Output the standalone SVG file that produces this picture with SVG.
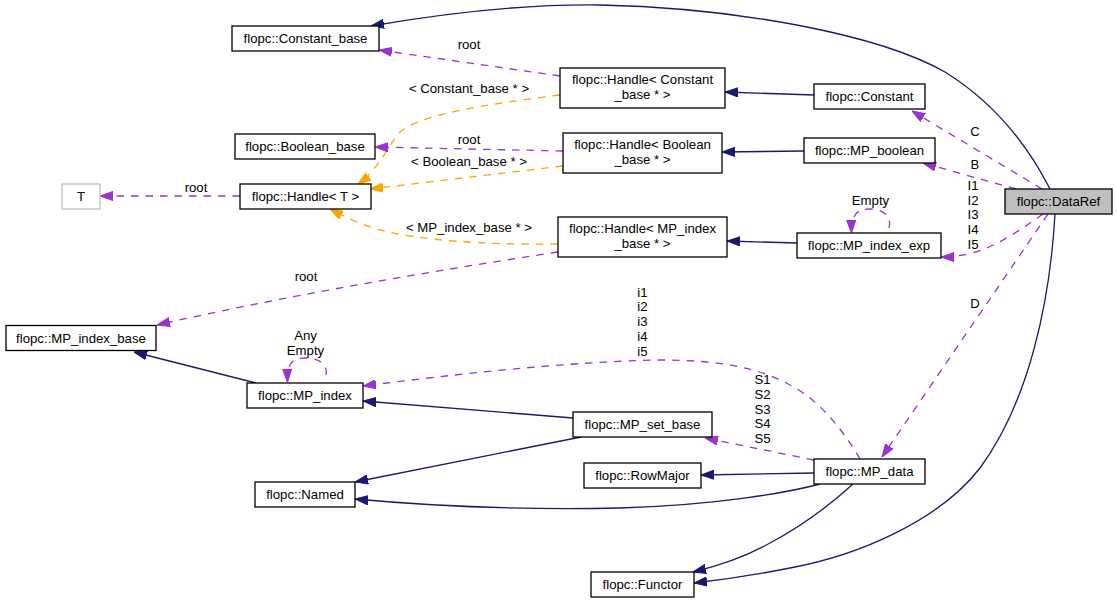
<svg xmlns="http://www.w3.org/2000/svg" width="1117" height="604" viewBox="0 0 1117 604">
<style>
  text { font-family: "Liberation Sans", Arial, sans-serif; font-size: 13.2px; fill: #000; text-anchor: middle; }
  .node rect { fill: #fff; stroke: #000; stroke-width: 1.3; }
  .node.cur rect { fill: #bfbfbf; }
  .node.ext rect { stroke: #bfbfbf; }
  .edges path { fill: none; stroke-width: 1.3; }
  .inh { stroke: #191970; }
  .usg { stroke: #9a32cd; stroke-dasharray: 7.5,7; }
  .tpl { stroke: #ffa500; stroke-dasharray: 7.5,7; }
</style>
<defs>
  <marker id="aN" viewBox="0 0 13 10" refX="13" refY="5" markerWidth="13" markerHeight="10" markerUnits="userSpaceOnUse" orient="auto">
    <path d="M0,0.4 L13,5 L0,9.6 z" fill="#191970" stroke="#191970" stroke-width="1"/>
  </marker>
  <marker id="aP" viewBox="0 0 13 10" refX="13" refY="5" markerWidth="13" markerHeight="10" markerUnits="userSpaceOnUse" orient="auto">
    <path d="M0,0.4 L13,5 L0,9.6 z" fill="#9a32cd" stroke="#9a32cd" stroke-width="1"/>
  </marker>
  <marker id="aO" viewBox="0 0 13 10" refX="13" refY="5" markerWidth="13" markerHeight="10" markerUnits="userSpaceOnUse" orient="auto">
    <path d="M0,0.4 L13,5 L0,9.6 z" fill="#ffa500" stroke="#ffa500" stroke-width="1"/>
  </marker>
</defs>
<rect width="1117" height="604" fill="#fff"/>

<g id="edges" class="edges">
  <path class="inh" marker-end="url(#aN)" d="M1050,189 C1025,140 990,100 945,72 C880,35 740,8 600,5 C520,4 440,14 371,26"/>
  <path class="usg" marker-end="url(#aP)" d="M560,76 L379,50"/>
  <path class="tpl" marker-end="url(#aO)" d="M560,95 C480,105 420,115 400,132 C388,145 380,168 358,184"/>
  <path class="inh" marker-end="url(#aN)" d="M814,95 L725,92"/>
  <path class="usg" marker-end="url(#aP)" d="M1042,189 L912,111"/>
  <path class="usg" marker-end="url(#aP)" d="M563,151 L375,147"/>
  <path class="tpl" marker-end="url(#aO)" d="M563,166 L370,189"/>
  <path class="inh" marker-end="url(#aN)" d="M804,151 L722,152"/>
  <path class="usg" marker-end="url(#aP)" d="M1016,189 L923,163"/>
  <path class="usg" marker-end="url(#aP)" d="M240,196 L100,196"/>
  <path class="tpl" marker-end="url(#aO)" d="M558,244 C480,245 420,240 380,230 C360,224 345,217 330,209"/>
  <path class="usg" marker-end="url(#aP)" d="M558,252 C420,273 280,297 157,325"/>
  <path class="inh" marker-end="url(#aN)" d="M797,243 L727,241"/>
  <path class="usg" marker-end="url(#aP)" d="M889,228 C892,218 885,209 870,209 C858,209 851,213 851.5,233"/>
  <path class="usg" marker-end="url(#aP)" d="M1043,214 C1020,230 995,248 968,254 C958,256 950,257 941,257"/>
  <path class="inh" marker-end="url(#aN)" d="M256,383 L134,352"/>
  <path class="usg" marker-end="url(#aP)" d="M326,375 C328,365 320,358 305,358 C293,358 287,362 287.5,382"/>
  <path class="usg" marker-end="url(#aP)" d="M860,459 C845,433 820,400 790,385 C760,368 720,360 660,360 C560,362 450,375 363,386"/>
  <path class="inh" marker-end="url(#aN)" d="M573,418 L363,401"/>
  <path class="inh" marker-end="url(#aN)" d="M581,437 L355,482"/>
  <path class="usg" marker-end="url(#aP)" d="M814,460 L705,438"/>
  <path class="inh" marker-end="url(#aN)" d="M814,473 L701,475"/>
  <path class="inh" marker-end="url(#aN)" d="M820,484 C790,492 720,505 620,508 C520,510 430,506 355,499"/>
  <path class="inh" marker-end="url(#aN)" d="M853,484 C830,505 800,527 770,543 C745,557 718,566 693,572"/>
  <path class="inh" marker-end="url(#aN)" d="M1055,214 C1050,300 1030,400 980,468 C940,520 860,555 790,568 C750,576 720,580 694,583"/>
  <path class="usg" marker-end="url(#aP)" d="M1048,214 L882,457"/>

  <text x="469" y="49">root</text>
  <text x="469" y="93">&lt; Constant_base * &gt;</text>
  <text x="469" y="144">root</text>
  <text x="469" y="166">&lt; Boolean_base * &gt;</text>
  <text x="196" y="192">root</text>
  <text x="469" y="232">&lt; MP_index_base * &gt;</text>
  <text x="306" y="281">root</text>
  <text x="975" y="136">C</text>
  <text x="975" y="169">B</text>
  <text x="973" y="190">I1</text>
  <text x="973" y="204.7">I2</text>
  <text x="973" y="219.4">I3</text>
  <text x="973" y="234.1">I4</text>
  <text x="973" y="248.8">I5</text>
  <text x="870.5" y="205">Empty</text>
  <text x="305.5" y="340">Any</text>
  <text x="305.5" y="354.5">Empty</text>
  <text x="642.5" y="296.7">i1</text>
  <text x="642.5" y="311.4">i2</text>
  <text x="642.5" y="326.1">i3</text>
  <text x="642.5" y="340.8">i4</text>
  <text x="642.5" y="355.5">i5</text>
  <text x="762.5" y="384.3">S1</text>
  <text x="762.5" y="399">S2</text>
  <text x="762.5" y="413.7">S3</text>
  <text x="762.5" y="428.4">S4</text>
  <text x="762.5" y="443.1">S5</text>
  <text x="975" y="308">D</text>
</g>

<g id="node_Constant_base" class="node"><rect x="232" y="26" width="147" height="25"/><text x="305.5" y="43">flopc::Constant_base</text></g>
<g id="node_Boolean_base" class="node"><rect x="235" y="134" width="140" height="25"/><text x="305" y="151">flopc::Boolean_base</text></g>
<g id="node_HandleT" class="node"><rect x="240" y="184" width="131" height="25"/><text x="305.5" y="201">flopc::Handle&lt; T &gt;</text></g>
<g id="node_T" class="node ext"><rect x="62" y="184" width="38" height="25"/><text x="81" y="201">T</text></g>
<g id="node_HandleConstant" class="node"><rect x="560" y="68" width="165" height="40"/><text x="642.5" y="84">flopc::Handle&lt; Constant</text><text x="642.5" y="99">_base * &gt;</text></g>
<g id="node_Constant" class="node"><rect x="814" y="84" width="111" height="25"/><text x="869.5" y="101">flopc::Constant</text></g>
<g id="node_HandleBoolean" class="node"><rect x="563" y="133" width="159" height="40"/><text x="642.5" y="149">flopc::Handle&lt; Boolean</text><text x="642.5" y="164">_base * &gt;</text></g>
<g id="node_MP_boolean" class="node"><rect x="804" y="138" width="131" height="25"/><text x="869.5" y="155">flopc::MP_boolean</text></g>
<g id="node_HandleMPindex" class="node"><rect x="558" y="217" width="169" height="40"/><text x="642.5" y="233">flopc::Handle&lt; MP_index</text><text x="642.5" y="248">_base * &gt;</text></g>
<g id="node_MP_index_exp" class="node"><rect x="797" y="233" width="144" height="25"/><text x="869" y="250">flopc::MP_index_exp</text></g>
<g id="node_DataRef" class="node cur"><rect x="1005" y="189" width="107" height="25"/><text x="1058.5" y="206">flopc::DataRef</text></g>
<g id="node_MP_index_base" class="node"><rect x="6" y="325.5" width="150" height="25"/><text x="81" y="342.5">flopc::MP_index_base</text></g>
<g id="node_MP_index" class="node"><rect x="247" y="383" width="116" height="25"/><text x="305" y="400">flopc::MP_index</text></g>
<g id="node_Named" class="node"><rect x="255" y="482" width="100" height="25"/><text x="305" y="499">flopc::Named</text></g>
<g id="node_MP_set_base" class="node"><rect x="573" y="412" width="139" height="25"/><text x="642.5" y="429">flopc::MP_set_base</text></g>
<g id="node_RowMajor" class="node"><rect x="584" y="463" width="117" height="25"/><text x="642.5" y="480">flopc::RowMajor</text></g>
<g id="node_MP_data" class="node"><rect x="814" y="459" width="111" height="25"/><text x="869.5" y="476">flopc::MP_data</text></g>
<g id="node_Functor" class="node"><rect x="591" y="572" width="103" height="25"/><text x="642.5" y="589">flopc::Functor</text></g>
</svg>
